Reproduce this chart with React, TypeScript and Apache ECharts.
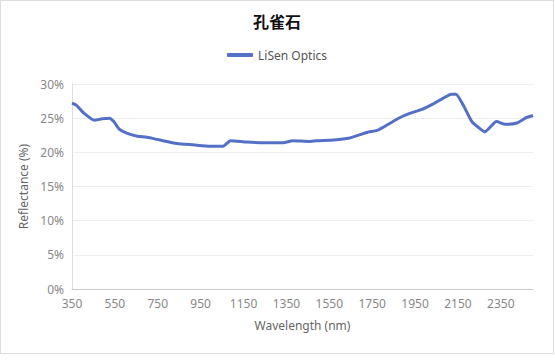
import React, { useEffect, useRef } from "react";
import * as echarts from "echarts";

const wavelengths = [350, 370, 400, 455, 490, 525, 545, 570, 605, 650, 700, 760, 840, 915, 995, 1055, 1090, 1165, 1260, 1335, 1380, 1460, 1490, 1570, 1645, 1725, 1780, 1835, 1880, 1925, 1975, 2035, 2080, 2120, 2140, 2175, 2215, 2255, 2275, 2330, 2370, 2425, 2470, 2500];
const reflectance = [27.2, 26.9, 25.9, 24.7, 24.9, 25.0, 24.5, 23.4, 22.8, 22.4, 22.2, 21.8, 21.3, 21.1, 20.9, 20.9, 21.7, 21.5, 21.4, 21.4, 21.7, 21.6, 21.7, 21.8, 22.1, 22.9, 23.3, 24.3, 25.1, 25.7, 26.2, 27.1, 27.9, 28.5, 28.5, 26.9, 24.5, 23.4, 23.0, 24.5, 24.1, 24.3, 25.1, 25.4];
const seriesName = "LiSen Optics";
const titleText = "孔雀石";

export default function App() {
  const ref = useRef<HTMLDivElement>(null);
  useEffect(() => {
    document.body.style.margin = "0";
    const chart = echarts.init(ref.current!, undefined, { renderer: "svg" });
    const font = "'Noto Sans', sans-serif";
    chart.setOption({
      animation: false,
      textStyle: { fontFamily: font },
      title: {
        text: titleText,
        left: "center",
        top: 7,
        textStyle: { fontSize: 16, fontWeight: "bold", color: "#111", fontFamily: "'Noto Sans CJK SC', sans-serif" },
      },
      legend: {
        top: 43,
        left: "center",
        data: [{ name: seriesName, icon: "roundRect" }],
        itemWidth: 26,
        itemHeight: 4,
        textStyle: { color: "#555", fontSize: 12 },
      },
      grid: { left: 71, right: 20, top: 83, bottom: 64 },
      xAxis: {
        type: "value",
        min: 350,
        max: 2500,
        interval: 200,
        name: "Wavelength (nm)",
        nameLocation: "middle",
        nameGap: 30,
        nameTextStyle: { color: "#666", fontSize: 12 },
        axisLine: { lineStyle: { color: "#ccc" } },
        axisTick: { show: false },
        splitLine: { show: false },
        axisLabel: { color: "#888", fontSize: 12, showMaxLabel: false, formatter: (v: number) => String(v) },
      },
      yAxis: {
        type: "value",
        min: 0,
        max: 30,
        interval: 5,
        name: "Reflectance (%)",
        nameLocation: "middle",
        nameGap: 38,
        nameTextStyle: { color: "#666", fontSize: 12 },
        axisLine: { show: true, lineStyle: { color: "#ddd" } },
        axisTick: { show: false },
        splitLine: { lineStyle: { color: "#eee" } },
        axisLabel: { color: "#888", fontSize: 12, formatter: "{value}%" },
      },
      series: [
        {
          name: seriesName,
          type: "line",
          data: wavelengths.map((w, i) => [w, reflectance[i]]),
          showSymbol: false,
          smooth: 0.2,
          lineStyle: { width: 3, color: "#5470c6" },
          itemStyle: { color: "#5470c6" },
        },
      ],
    });
    return () => chart.dispose();
  }, []);
  return (
    <div style={{ width: 554, height: 354, border: "1px solid #ddd", boxSizing: "border-box", background: "#fff" }}>
      <div ref={ref} style={{ width: 552, height: 352 }} />
    </div>
  );
}
